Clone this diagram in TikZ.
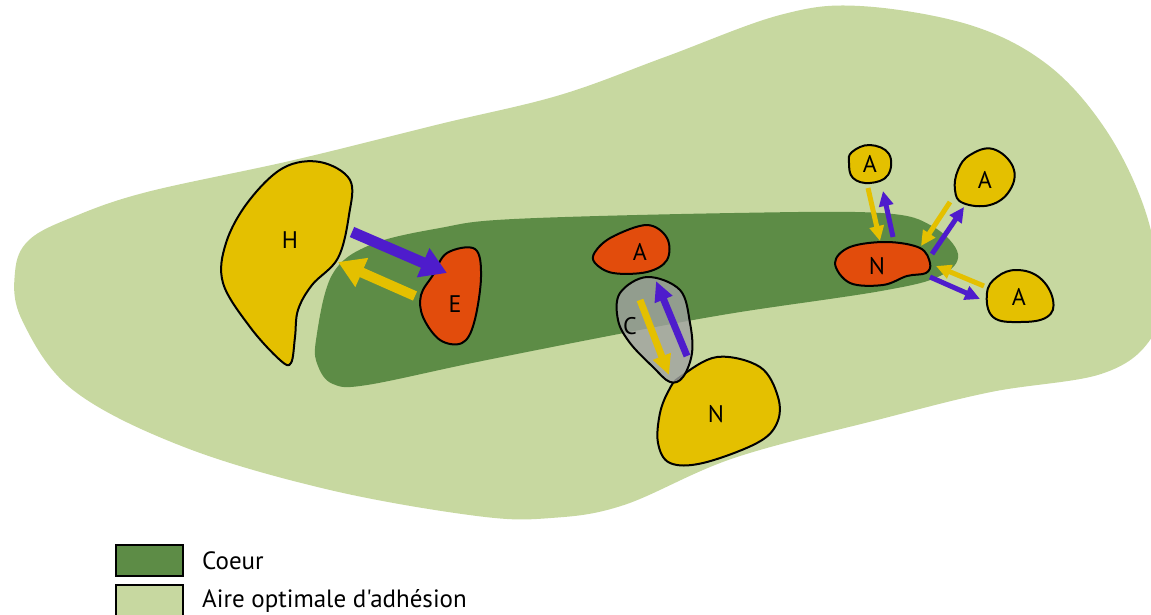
\documentclass[tikz,border=0pt]{standalone}
\usepackage{fontspec}
\setmainfont{PT Sans}[Ligatures=TeXOff]
\usetikzlibrary{arrows.meta}
\definecolor{lgreen}{RGB}{199,216,160}
\definecolor{dgreen}{RGB}{93,140,70}
\definecolor{yel}{RGB}{228,192,0}
\definecolor{red}{RGB}{226,76,12}
\definecolor{blu}{RGB}{78,28,204}
\definecolor{grey}{RGB}{160,162,160}
\tikzset{
  blob/.style={draw=black, line width=2pt},
  lbl/.style={font=\fontsize{24}{28}\selectfont, inner sep=0pt},
  leglbl/.style={font=\fontsize{25}{29}\selectfont, inner sep=0pt},
  bigarrow/.style={line width=11pt, -{Triangle[width=30pt,length=26pt]}},
  midarrow/.style={line width=7pt, -{Triangle[width=18pt,length=20pt]}},
  smallarrow/.style={line width=5pt, -{Triangle[width=14pt,length=15pt]}},
  legbox/.style={draw=black, line width=2pt},
}
\begin{document}
\begin{tikzpicture}[x=1pt,y=-1pt]
\useasboundingbox (0,0) rectangle (1151,614);
\begin{scope}
\clip (0,0) rectangle (1151,614);
% outer light green area
\fill[lgreen] plot[smooth cycle, tension=0.6] coordinates {
 (15,272) (29,240) (73,217) (147,192) (294,160) (440,124) (560,95) (665,57)
 (780,15) (860,6) (970,25) (1048,65) (1106,130) (1145,210) (1160,290)
 (1150,340) (1101,374) (991,392) (881,419) (734,458) (624,505) (551,518)
 (477,516) (330,490) (184,447) (73,390) (22,320)};
% core
\fill[dgreen] plot[smooth cycle, tension=0.6] coordinates {
 (316,340) (332,275) (370,245) (440,228) (514,219) (734,213) (881,213)
 (932,226) (958,254) (940,276) (881,291) (734,313) (624,333) (477,362)
 (367,385) (333,384) (318,366)};
\end{scope}
% H
\draw[blob, fill=yel] plot[smooth cycle, tension=0.6] coordinates {
 (283,168) (320,162) (350,180) (349,215) (338,258) (312,285) (298,310)
 (295,337) (291,363) (280,360) (250,327) (223,283) (226,243) (248,202)};
% E
\draw[blob, fill=red] plot[smooth cycle, tension=0.6] coordinates {
 (447,253) (475,249) (481,277) (474,323) (462,343) (440,340) (423,317)
 (421,295) (433,275)};
% A red middle
\draw[blob, fill=red] plot[smooth cycle, tension=0.6] coordinates {
 (595,252) (612,237) (647,225) (667,238) (667,260) (647,272) (613,273) (595,263)};
% N yellow middle
\draw[blob, fill=yel] plot[smooth cycle, tension=0.6] coordinates {
 (680,377) (717,357) (760,367) (778,397) (777,423) (757,443) (703,463)
 (670,463) (658,443) (660,413) (669,390)};
% C grey
\draw[blob, fill=grey, fill opacity=0.8] plot[smooth cycle, tension=0.6] coordinates {
 (647,277) (680,290) (690,323) (692,353) (683,377) (670,382) (653,367)
 (630,343) (618,320) (620,293)};
% N red right
\draw[blob, fill=red] plot[smooth cycle, tension=0.6] coordinates {
 (835,263) (850,247) (887,242) (920,248) (930,263) (926,273) (907,276)
 (883,285) (850,283)};
% A1
\draw[blob, fill=yel] plot[smooth cycle, tension=0.7] coordinates {
 (852,152) (870,145) (889,154) (888,175) (870,183) (853,178) (849,163)};
% A2
\draw[blob, fill=yel] plot[smooth cycle, tension=0.7] coordinates {
 (970,155) (993,149) (1013,167) (1010,190) (990,205) (963,203) (955,190) (958,170)};
% A3
\draw[blob, fill=yel] plot[smooth cycle, tension=0.7] coordinates {
 (997,277) (1017,270) (1040,278) (1053,300) (1047,317) (1020,322) (993,317) (987,293)};

% labels
\node[lbl] (H) at (290,240) {H};
\node[lbl] (E) at (455,304) {E};
\node[lbl] (Am) at (640,252) {A};
\node[lbl] (C) at (630,326) {C};
\node[lbl] (Nm) at (716,414) {N};
\node[lbl] (Nr) at (877,266) {N};
\node[lbl] (A1) at (870,164) {A};
\node[lbl] (A2) at (985,180) {A};
\node[lbl] (A3) at (1019,297) {A};

% arrow endpoints
\coordinate (he1) at (352,232); \coordinate (he2) at (447,273);
\coordinate (eh1) at (415,296); \coordinate (eh2) at (338,262);
\coordinate (cy1) at (640,300); \coordinate (cy2) at (669,375);
\coordinate (cb1) at (687,356); \coordinate (cb2) at (656,281);
\coordinate (y11) at (868,188); \coordinate (y12) at (880,241);
\coordinate (b11) at (893,237); \coordinate (b12) at (883,191);
\coordinate (y21) at (950,202); \coordinate (y22) at (921,246);
\coordinate (b21) at (932,254); \coordinate (b22) at (964,207);
\coordinate (y31) at (984,286); \coordinate (y32) at (936,266);
\coordinate (b31) at (930,277); \coordinate (b32) at (980,299);

\draw[bigarrow, blu] (he1) -- (he2);
\draw[bigarrow, yel, line width=10pt] (eh1) -- (eh2);
\draw[midarrow, yel] (cy1) -- (cy2);
\draw[midarrow, blu] (cb1) -- (cb2);
\draw[smallarrow, yel] (y11) -- (y12);
\draw[smallarrow, blu] (b11) -- (b12);
\draw[smallarrow, yel] (y21) -- (y22);
\draw[smallarrow, blu] (b21) -- (b22);
\draw[smallarrow, yel] (y31) -- (y32);
\draw[smallarrow, blu] (b31) -- (b32);

% legend
\draw[legbox, fill=dgreen] (116,545) rectangle (183,576);
\draw[legbox, fill=lgreen] (116,585) rectangle (183,618);
\node[leglbl, anchor=base west] (lc) at (202,569) {Coeur};
\node[leglbl, anchor=base west] (la) at (202,607) {Aire optimale d'adhésion};
\end{tikzpicture}
\end{document}
